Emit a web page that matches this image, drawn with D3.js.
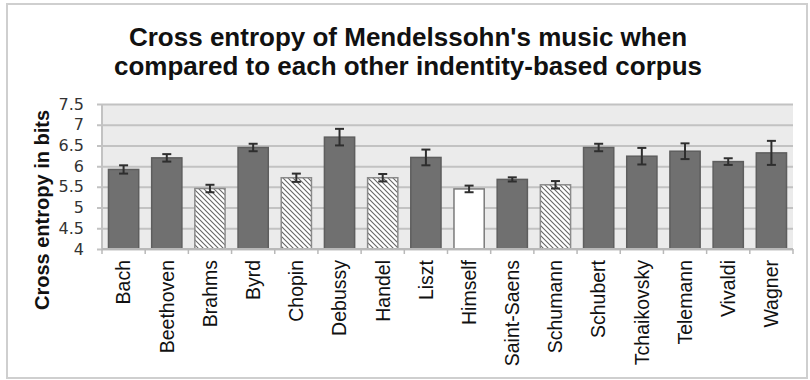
<!DOCTYPE html>
<html>
<head>
<meta charset="utf-8">
<script src="https://cdn.jsdelivr.net/npm/d3@7"></script>
<style>
  html, body { margin: 0; padding: 0; background: #fff; }
  svg { display: block; font-family: "Liberation Sans", Arial, sans-serif; }
</style>
</head>
<body>
<svg id="chart" width="810" height="380"></svg>
<script>
// Composers each corpus is compared against
const composers = ["Bach","Beethoven","Brahms","Byrd","Chopin","Debussy","Handel","Liszt",
  "Himself","Saint-Saens","Schumann","Schubert","Tchaikovsky","Telemann","Vivaldi","Wagner"];
// Mean cross entropy (bits)
const entropy = [5.92, 6.20, 5.46, 6.45, 5.72, 6.70, 5.72, 6.21,
  5.45, 5.68, 5.55, 6.45, 6.24, 6.36, 6.11, 6.32];
// Error half-widths (bits)
const errors = [0.10, 0.09, 0.09, 0.09, 0.10, 0.20, 0.09, 0.19,
  0.08, 0.05, 0.09, 0.09, 0.20, 0.19, 0.08, 0.29];
// Bar style group: "solid", "hatch" or "self"
const groups = ["solid","solid","hatch","solid","hatch","solid","hatch","solid",
  "self","solid","hatch","solid","solid","solid","solid","solid"];
const yTicks = [4, 4.5, 5, 5.5, 6, 6.5, 7, 7.5];
const titleLines = ["Cross entropy of Mendelssohn's music when",
  "compared to each other indentity-based corpus"];
const yLabel = "Cross entropy in bits";

const svg = d3.select("#chart");
const plot = { left: 102, right: 793, top: 104, bottom: 249 };

// Hatch pattern for the striped bars
const defs = svg.append("defs");
const pat = defs.append("pattern")
  .attr("id", "hatch")
  .attr("patternUnits", "userSpaceOnUse")
  .attr("width", 5).attr("height", 5);
pat.append("rect").attr("width", 5).attr("height", 5).attr("fill", "#fff");
pat.append("path")
  .attr("d", "M-1,-1L6,6M-1,4L1,6M4,-1L6,1")
  .attr("stroke", "#666").attr("stroke-width", 1.1);

// Outer frame
svg.append("rect")
  .attr("x", 7).attr("y", 4).attr("width", 800).attr("height", 374)
  .attr("fill", "#fff").attr("stroke", "#cfcfcf").attr("stroke-width", 2);

// Title
svg.append("g").selectAll("text").data(titleLines).join("text")
  .attr("x", 408).attr("y", (d, i) => 46 + i * 29)
  .attr("text-anchor", "middle")
  .attr("font-size", 26).attr("font-weight", "bold").attr("fill", "#111")
  .text(d => d);

const x = d3.scaleBand().domain(composers)
  .range([plot.left, plot.right]).paddingInner(0.3).paddingOuter(0.15);
const y = d3.scaleLinear().domain([4, 7.5]).range([plot.bottom, plot.top]);

// Plot background
svg.append("rect")
  .attr("x", plot.left).attr("y", plot.top)
  .attr("width", plot.right - plot.left).attr("height", plot.bottom - plot.top)
  .attr("fill", "#ebebeb");

// Horizontal gridlines with left tick marks
const yAxis = d3.axisLeft(y).tickValues(yTicks).tickSize(plot.right - plot.left + 5)
  .tickFormat(d3.format("~g")).tickPadding(13);
const gy = svg.append("g")
  .attr("transform", `translate(${plot.right},0)`)
  .call(yAxis);
gy.select(".domain").remove();
gy.selectAll(".tick line").attr("stroke", "#c2c2c2").attr("stroke-width", 2);
gy.selectAll(".tick text")
  .attr("font-size", 16).attr("fill", "#333")
  .attr("font-family", "DejaVu Sans, sans-serif");

// Left axis line
svg.append("line")
  .attr("x1", plot.left).attr("x2", plot.left)
  .attr("y1", plot.top).attr("y2", plot.bottom)
  .attr("stroke", "#c2c2c2").attr("stroke-width", 2);

// Bars
const fillFor = g => g === "solid" ? "#707070" : g === "hatch" ? "url(#hatch)" : "#fff";
const strokeFor = g => g === "solid" ? "#5e5e5e" : g === "hatch" ? "#8a8a8a" : "#7a7a7a";
svg.append("g").selectAll("rect").data(composers).join("rect")
  .attr("x", d => x(d))
  .attr("y", (d, i) => y(entropy[i]))
  .attr("width", x.bandwidth())
  .attr("height", (d, i) => y(4) - y(entropy[i]))
  .attr("fill", (d, i) => fillFor(groups[i]))
  .attr("stroke", (d, i) => strokeFor(groups[i]))
  .attr("stroke-width", 1.5);

// Bottom axis with ticks between categories
const bounds = composers.map(c => x(c) - x.step() * x.paddingInner() / 2).concat([plot.right]);
svg.append("line")
  .attr("x1", plot.left).attr("x2", plot.right)
  .attr("y1", plot.bottom).attr("y2", plot.bottom)
  .attr("stroke", "#b8b8b8").attr("stroke-width", 2);
svg.append("g").selectAll("line").data(bounds).join("line")
  .attr("x1", (d, i) => i === 0 ? plot.left : d).attr("x2", (d, i) => i === 0 ? plot.left : d)
  .attr("y1", plot.bottom).attr("y2", plot.bottom + 5)
  .attr("stroke", "#b8b8b8").attr("stroke-width", 1.5);

// Error bars
const eb = svg.append("g").attr("stroke", "#2e2e2e").attr("stroke-width", 2);
composers.forEach((c, i) => {
  const cx = x(c) + x.bandwidth() / 2;
  const hi = y(entropy[i] + errors[i]), lo = y(entropy[i] - errors[i]);
  eb.append("line").attr("x1", cx).attr("x2", cx).attr("y1", hi).attr("y2", lo);
  eb.append("line").attr("x1", cx - 4.5).attr("x2", cx + 4.5).attr("y1", hi).attr("y2", hi);
  eb.append("line").attr("x1", cx - 4.5).attr("x2", cx + 4.5).attr("y1", lo).attr("y2", lo);
});

// Category labels, rotated
svg.append("g").selectAll("text").data(composers).join("text")
  .attr("transform", d => `translate(${x(d) + x.bandwidth() / 2},260) rotate(-90)`)
  .attr("text-anchor", "end").attr("dy", "0.35em")
  .attr("font-size", 19.5).attr("fill", "#111")
  .text(d => d);

// Y axis title
svg.append("text")
  .attr("transform", "translate(42,210) rotate(-90)")
  .attr("text-anchor", "middle").attr("dy", "0.35em")
  .attr("font-size", 20).attr("font-weight", "bold").attr("fill", "#111")
  .text(yLabel);
</script>
</body>
</html>
